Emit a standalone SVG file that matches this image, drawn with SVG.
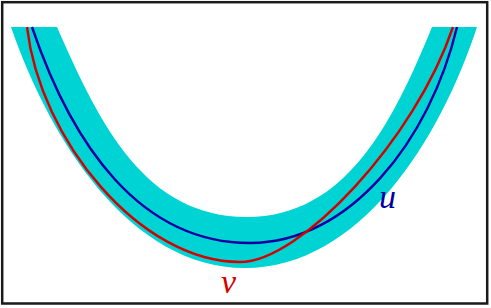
<svg xmlns="http://www.w3.org/2000/svg" width="491" height="308" viewBox="0 0 491 308">
<style>
.curve{fill:none;stroke-width:2.4;stroke-linecap:butt}
.lbl{font-family:"Liberation Serif",serif;font-style:italic;font-size:34px}
</style>
<rect x="0" y="0" width="491" height="308" fill="#fff"/>
<rect x="2.2" y="2.2" width="485" height="301.3" fill="none" stroke="#1a1a1a" stroke-width="2.5"/>
<g id="band">
<path d="M11,27 C50,140 130,268 245,268 C360,268 440,140 477,27 L432,27 C392,125 345,217 247,217 C145,217 100,125 57,27 Z" fill="#00d3d3"/>
</g>
<g id="u">
<path class="curve" stroke="#0000a0" d="M32,27 C72,145 140,243 250,243 C350,243 430,140 457,27"/>
<text class="lbl" x="379" y="208" fill="#0000a0">u</text>
</g>
<g id="v">
<path class="curve" stroke="#d40000" d="M27,27 C40,140 140,262 240,262 C300,262 415,140 453,27"/>
<text class="lbl" x="221" y="293" fill="#d40000">v</text>
</g>
</svg>
